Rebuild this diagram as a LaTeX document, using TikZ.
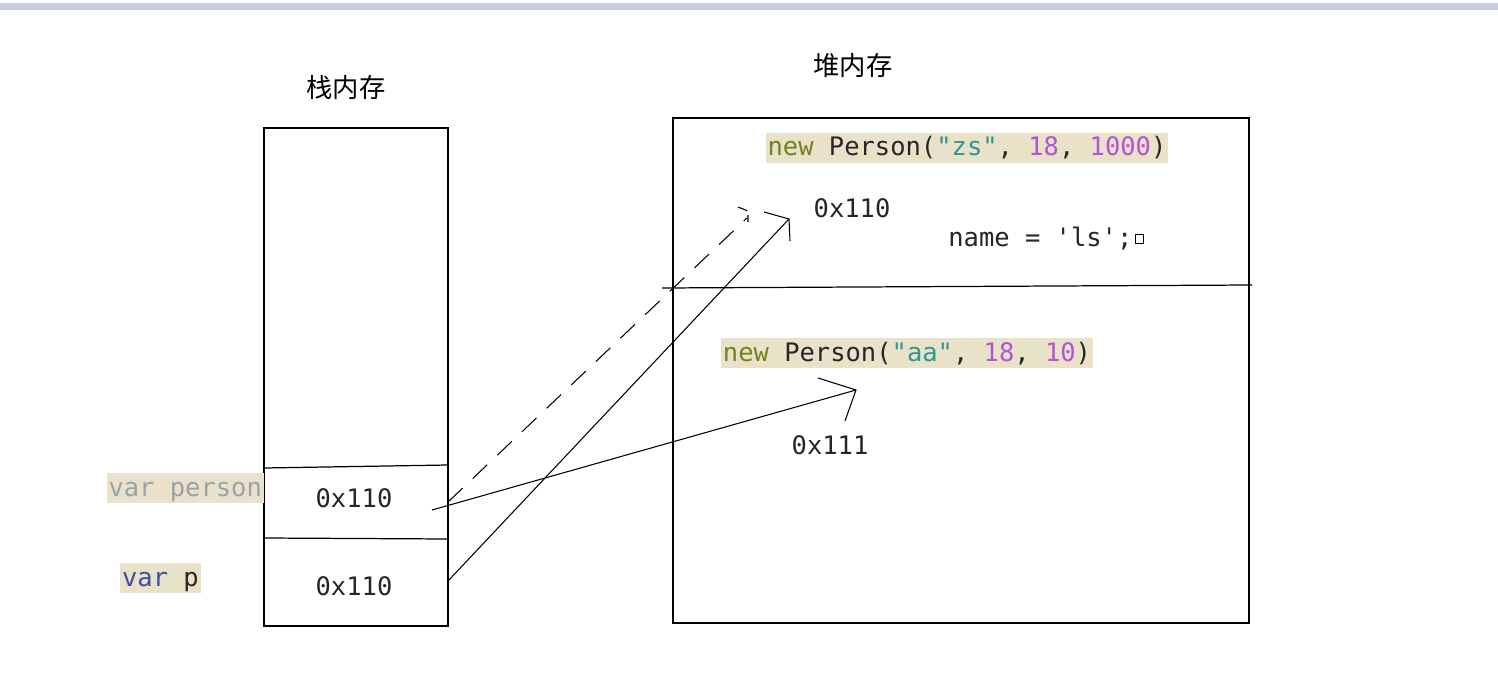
\documentclass[tikz,border=0pt]{standalone}
\usepackage{fontspec}
\setmonofont{DejaVu Sans Mono}
\newfontfamily\cjk{Noto Sans CJK SC}
\usetikzlibrary{positioning}

\definecolor{hlbg}{RGB}{233,226,200}
\definecolor{kwgreen}{RGB}{112,132,28}
\definecolor{strteal}{RGB}{46,150,150}
\definecolor{numpurple}{RGB}{178,84,214}
\definecolor{vargray}{RGB}{152,164,172}
\definecolor{varblue}{RGB}{62,78,168}
\definecolor{topbar}{RGB}{201,205,222}

\begin{document}
\begin{tikzpicture}[x=0.02cm,y=-0.02cm,
    code/.style={font=\ttfamily\fontsize{14.5}{17}\selectfont,inner sep=0pt,text=black!85},
    hl/.style={code,fill=hlbg,inner xsep=1pt,text height=0.46cm,text depth=0.14cm},
    title/.style={font=\cjk\fontsize{15}{18}\selectfont},
    mem/.style={draw,line width=0.7pt,inner sep=0pt},
    ref/.style={line width=0.6pt},
    oldref/.style={ref,dash pattern=on 0.4cm off 0.28cm}]
  \useasboundingbox[fill=white] (0,0) rectangle (1498,679);

  % Top bar
  \fill[topbar] (0,3) rectangle (1498,10);

  % Stack
  \node[title] (stacktitle) at (346,88) {栈内存};
  \node[mem,minimum width=3.68cm,minimum height=9.96cm] (stack) at (356,377) {};
  \draw[line width=0.7pt] (264,468) -- (448,465);
  \draw[line width=0.7pt] (264,538) -- (448,539);
  \node[code] (addrperson) at (354,498) {0x110};
  \node[code] (addrp) at (354,586) {0x110};
  \node[hl,text=vargray,anchor=east] (varperson) at (264,488) {var person};
  \node[hl,anchor=west] (varp) at (120,578) {\textcolor{varblue}{var} p};

  % Heap
  \node[title] (heaptitle) at (853,66) {堆内存};
  \node[mem,minimum width=11.52cm,minimum height=10.1cm] (heap) at (961,370.5) {};
  \draw[line width=0.7pt] (662,288) -- (1252,285);
  \node[hl] (objzs) at (967,148)
    {\textcolor{kwgreen}{new} Person(\textcolor{strteal}{"zs"}, \textcolor{numpurple}{18}, \textcolor{numpurple}{1000})};
  \node[code] (addrzs) at (852,208) {0x110};
  \node[code,anchor=west] (assign) at (948,239) {name = 'ls';};
  \node[draw,line width=0.5pt,inner sep=0pt,minimum size=0.17cm,right=1pt of assign.east] (caret) {};
  \node[hl] (objaa) at (907,353)
    {\textcolor{kwgreen}{new} Person(\textcolor{strteal}{"aa"}, \textcolor{numpurple}{18}, \textcolor{numpurple}{10})};
  \node[code] (addraa) at (830,445) {0x111};

  % References
  \coordinate (fromperson) at (432,510);
  \coordinate (fromold) at (448,502);
  \coordinate (fromp) at (448,581);
  \coordinate (tipaa) at (856,390);
  \coordinate (tipzs) at (789,219);
  \coordinate (tipold) at (747,218);

  \draw[ref] (fromperson) -- (tipaa);
  \draw[ref] (818,378) -- (tipaa) -- (845,421);
  \draw[ref] (fromp) -- (tipzs);
  \draw[ref] (764,212) -- (tipzs) -- (790,241);
  \draw[oldref] (fromold) -- (tipold);
  \draw[ref,dash pattern=on 0.2cm off 0.1cm] (738,207) -- (748,211) -- (748,222);
\end{tikzpicture}
\end{document}
